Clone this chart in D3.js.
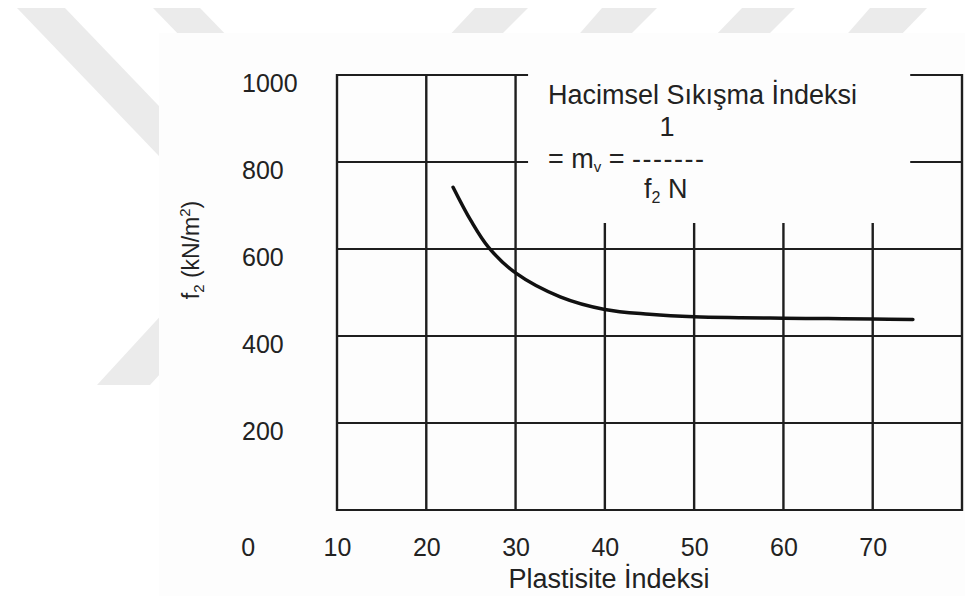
<!DOCTYPE html>
<html>
<head>
<meta charset="utf-8">
<script src="https://cdn.jsdelivr.net/npm/d3@7"></script>
<style>
  body { margin: 0; background: #fff; }
  svg text { font-family: "Liberation Sans", Arial, sans-serif; fill: #222; }
</style>
</head>
<body>
<div id="chart-area"></div>
<script>
// data
var plasticity = [23, 25, 27, 30, 35, 40, 45, 50, 55, 60, 65, 70, 74.5];
var f2Values   = [742, 665, 603, 545, 490, 461, 450, 444, 442, 441, 440, 439, 438];

var xTicks = [0, 10, 20, 30, 40, 50, 60, 70];
var yTicks = [200, 400, 600, 800, 1000];
var hGrid = [0, 200, 400, 600];      // full width lines
var hGridTop = [800, 1000];          // broken by the formula text
var vGridFull = [10, 20, 30, 80];
var vGridShort = [40, 50, 60, 70];

var W = 965, H = 596;

var svg = d3.select("#chart-area").append("svg")
    .attr("width", W)
    .attr("height", H);

// faint watermark stripes behind the scan
var marks = [
  [[17,8],[65,8],[441,400],[393,400]],
  [[97,385],[150,385],[334,185],[281,185]],
  [[153,8],[200,8],[231,40],[184,40]],
  [[475,8],[528,8],[496,40],[445,40]],
  [[602,8],[657,8],[625,40],[574,40]],
  [[742,8],[795,8],[763,40],[711,40]],
  [[870,8],[927,8],[896,40],[842,40]]
];
svg.selectAll("polygon.wm")
    .data(marks)
    .enter()
    .append("polygon")
    .attr("class", "wm")
    .attr("points", (d) => d.map((p) => p.join(",")).join(" "))
    .attr("fill", "#ebebeb");

svg.append("rect")
    .attr("x", 159).attr("y", 33)
    .attr("width", W - 159).attr("height", H - 33)
    .attr("fill", "#fdfdfd");

var x = d3.scaleLinear().domain([10, 80]).range([337, 962]);
var y = d3.scaleLinear().domain([0, 1000]).range([510, 75]);

var g = svg.append("g");
var gridColor = "#1e1e1e";

// horizontal grid
g.selectAll("line.hg")
    .data(hGrid)
    .enter()
    .append("line")
    .attr("x1", x(10)).attr("x2", x(80))
    .attr("y1", (d) => y(d)).attr("y2", (d) => y(d))
    .attr("stroke", gridColor).attr("stroke-width", 2.2);

hGridTop.forEach(function(v){
    [[10, 31.4], [74.2, 80]].forEach(function(seg){
        g.append("line")
            .attr("x1", x(seg[0])).attr("x2", x(seg[1]))
            .attr("y1", y(v)).attr("y2", y(v))
            .attr("stroke", gridColor).attr("stroke-width", 2.2);
    });
});

// vertical grid
g.selectAll("line.vf")
    .data(vGridFull)
    .enter()
    .append("line")
    .attr("x1", (d) => x(d)).attr("x2", (d) => x(d))
    .attr("y1", y(0) + 1).attr("y2", y(1000) - 1)
    .attr("stroke", gridColor).attr("stroke-width", 2.4);

g.selectAll("line.vs")
    .data(vGridShort)
    .enter()
    .append("line")
    .attr("x1", (d) => x(d)).attr("x2", (d) => x(d))
    .attr("y1", y(0)).attr("y2", y(660))
    .attr("stroke", gridColor).attr("stroke-width", 2.4);

// curve
var line = d3.line()
    .x((d, i) => x(plasticity[i]))
    .y((d) => y(d))
    .curve(d3.curveCatmullRom.alpha(0.5));

g.append("path")
    .datum(f2Values)
    .attr("d", line)
    .attr("fill", "none")
    .attr("stroke", "#111")
    .attr("stroke-width", 3.5)
    .attr("stroke-linecap", "round");

// axes (labels only)
var xAxisCall = d3.axisBottom(x).tickValues(xTicks).tickSize(0).tickFormat(d3.format("d"));
var xAxis = svg.append("g")
    .attr("transform", "translate(0," + (y(0) + 25) + ")")
    .call(xAxisCall);
xAxis.select(".domain").remove();
xAxis.selectAll("text")
    .attr("font-size", "25px")
    .attr("fill", "#222")
    .attr("dy", "0.71em");

var yAxisCall = d3.axisLeft(y).tickValues(yTicks).tickSize(0).tickFormat(d3.format("d"));
var yAxis = svg.append("g")
    .attr("transform", "translate(242,8)")
    .call(yAxisCall);
yAxis.select(".domain").remove();
yAxis.selectAll("text")
    .attr("x", 0)
    .attr("text-anchor", "start")
    .attr("font-size", "25px")
    .attr("fill", "#222");

// X label
svg.append("text")
    .attr("x", 609)
    .attr("y", 588)
    .attr("font-size", "27px")
    .attr("text-anchor", "middle")
    .text("Plastisite İndeksi");

// Y label
var yl = svg.append("text")
    .attr("transform", "translate(199,250) rotate(-90)")
    .attr("font-size", "23px")
    .attr("text-anchor", "middle");
yl.append("tspan").text("f");
yl.append("tspan").attr("font-size", "15px").attr("dy", 5).text("2");
yl.append("tspan").attr("dy", -5).text(" (kN/m");
yl.append("tspan").attr("font-size", "15px").attr("dy", -9).text("2");
yl.append("tspan").attr("dy", 9).text(")");

// formula text
svg.append("text")
    .attr("x", 548).attr("y", 104)
    .attr("font-size", "27px")
    .text("Hacimsel Sıkışma İndeksi");

svg.append("text")
    .attr("x", 667).attr("y", 136)
    .attr("font-size", "27px")
    .attr("text-anchor", "middle")
    .text("1");

var eq = svg.append("text")
    .attr("x", 548).attr("y", 168)
    .attr("font-size", "27px");
eq.append("tspan").text("= m");
eq.append("tspan").attr("font-size", "15px").attr("dy", 4).text("v");
eq.append("tspan").attr("dy", -4).text(" = ");
eq.append("tspan").attr("letter-spacing", "1.5px").text("-------");

var den = svg.append("text")
    .attr("x", 644).attr("y", 198)
    .attr("font-size", "27px");
den.append("tspan").text("f");
den.append("tspan").attr("font-size", "16px").attr("dy", 5).text("2");
den.append("tspan").attr("dy", -5).text(" N");
</script>
</body>
</html>
